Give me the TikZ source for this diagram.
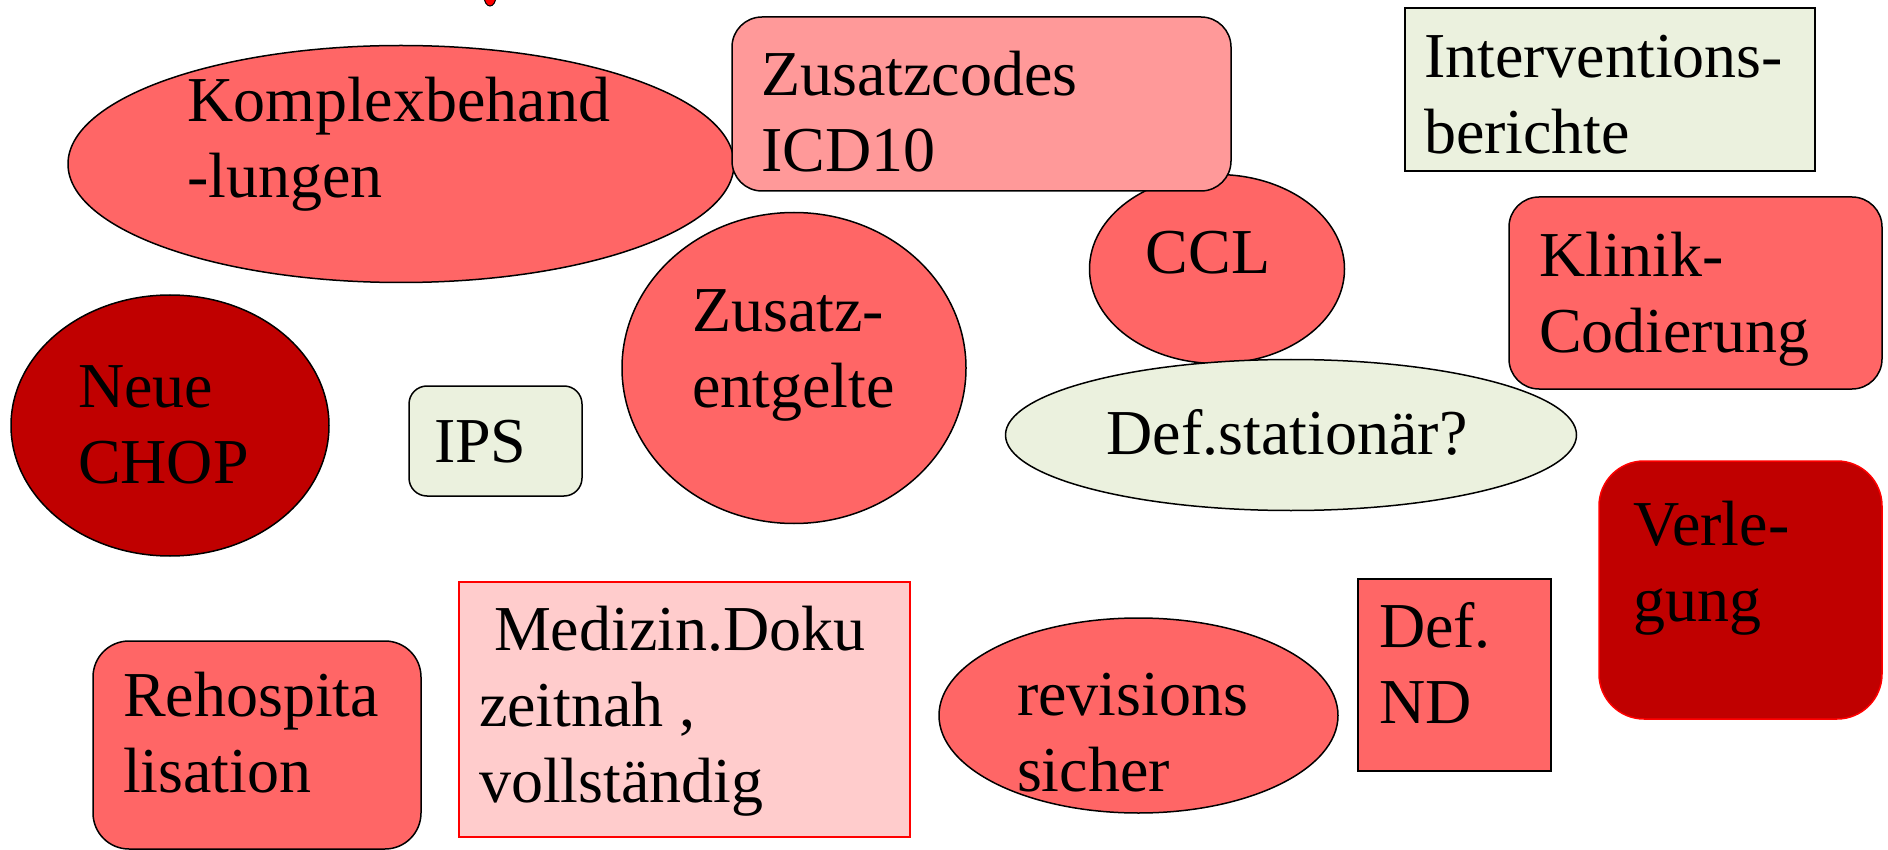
\documentclass[tikz,border=0pt]{standalone}
\usepackage{fontspec}
\setmainfont{Liberation Serif}
\usetikzlibrary{shapes.geometric}
\definecolor{medred}{HTML}{FF6666}
\definecolor{pinkred}{HTML}{FF9999}
\definecolor{palepink}{HTML}{FFCCCC}
\definecolor{darkred}{HTML}{C00000}
\definecolor{palegreen}{HTML}{EBF1DE}
\definecolor{brightred}{HTML}{FF0000}
\newcommand{\ml}[1]{\begin{tabular}[t]{@{}l@{}}#1\end{tabular}}
\begin{document}
\begin{tikzpicture}[x=1pt,y=-1pt,
  shapebase/.style={draw=black,line width=1.5pt,inner sep=0pt,outer sep=0pt},
  oval/.style={shapebase,ellipse},
  box/.style={shapebase,rectangle},
  lbl/.style={inner sep=0pt,outer sep=0pt,anchor=base west,font=\fontsize{64}{76}\selectfont},
  clbl/.style={lbl,anchor=base},
]
\useasboundingbox (0,0) rectangle (1888,850);
% small red mark at top edge
\node[oval,fill=brightred,line width=1pt,minimum width=12pt,minimum height=20pt] (mark) at (490,-4) {};
% shapes
\node[oval,fill=medred,minimum width=666pt,minimum height=237pt] (komplex) at (401,164) {};
\node[oval,fill=medred,minimum width=344pt,minimum height=311pt] (zusatzentg) at (794,368) {};
\node[oval,fill=medred,minimum width=255pt,minimum height=189pt] (ccl) at (1217,269) {};
\node[oval,fill=palegreen,minimum width=571pt,minimum height=151pt] (defstat) at (1291,435) {};
\node[box,fill=pinkred,rounded corners=30pt,minimum width=499pt,minimum height=174pt] (zcodes) at (981.5,104) {};
\node[box,fill=palegreen,minimum width=410pt,minimum height=163pt] (interv) at (1610,89.5) {};
\node[box,fill=medred,rounded corners=30pt,minimum width=373pt,minimum height=192pt] (klinik) at (1695.5,293) {};
\node[oval,fill=darkred,minimum width=318pt,minimum height=261pt] (chop) at (170,425.5) {};
\node[box,fill=palegreen,rounded corners=18pt,minimum width=173pt,minimum height=110pt] (ips) at (495.5,441) {};
\node[box,fill=darkred,draw=brightred,rounded corners=45pt,minimum width=283pt,minimum height=258pt] (verleg) at (1740.5,590) {};
\node[box,fill=medred,rounded corners=36pt,minimum width=328pt,minimum height=208pt] (rehosp) at (257,745) {};
\node[box,fill=palepink,draw=brightred,line width=1.2pt,minimum width=451pt,minimum height=255pt] (medizin) at (684.5,709.5) {};
\node[oval,fill=medred,minimum width=399pt,minimum height=195pt] (revis) at (1138.5,715.5) {};
\node[box,fill=medred,minimum width=193pt,minimum height=192pt] (defnd) at (1454.5,675) {};
% labels
\node[lbl] (tkomplex) at (187,122) {\ml{Komplexbehand\\-lungen}};
\node[lbl] (tzcodes) at (761,96) {\ml{Zusatzcodes\\ICD10}};
\node[lbl] (tinterv) at (1424,78) {\ml{Interventions-\\berichte}};
\node[clbl] (tccl) at (1208,274) {CCL};
\node[lbl] (tklinik) at (1539,277) {\ml{Klinik-\\Codierung}};
\node[lbl] (tchop) at (78,407) {\ml{Neue\\CHOP}};
\node[lbl] (tips) at (434,462) {IPS};
\node[lbl] (tzusatz) at (692,332) {\ml{Zusatz-\\entgelte}};
\node[clbl] (tdefstat) at (1287,454) {Def.stationär?};
\node[lbl] (tverleg) at (1633,545) {\ml{Verle-\\gung}};
\node[lbl] (trehosp) at (123,716) {\ml{Rehospita\\lisation}};
\node[lbl] (tmedizin) at (479,650) {\ml{\hspace*{15pt}Medizin.Doku\\zeitnah ,\\vollständig}};
\node[lbl] (trevis) at (1017,715) {\ml{revisions\\sicher}};
\node[lbl] (tdefnd) at (1379,647) {\ml{Def.\\ND}};
\end{tikzpicture}
\end{document}
